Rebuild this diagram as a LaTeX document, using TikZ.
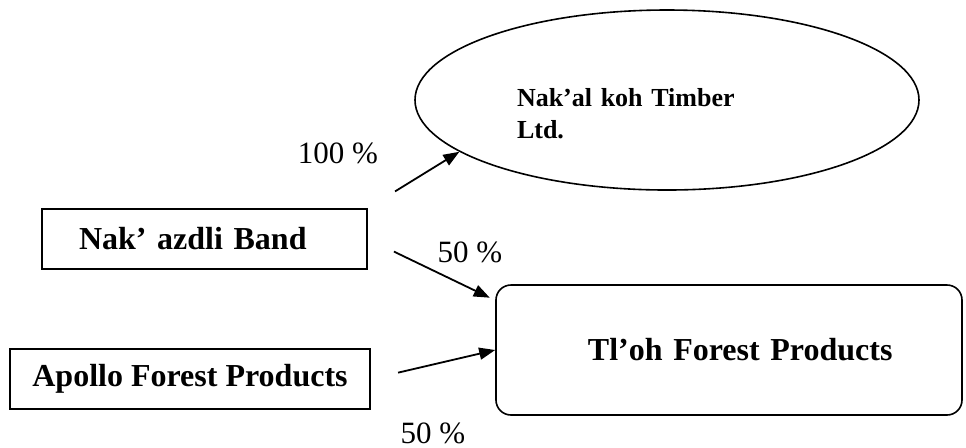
\documentclass[tikz,border=0pt]{standalone}
\usepackage{fontspec}
\setmainfont{Liberation Serif}
\usetikzlibrary{positioning,arrows.meta,shapes.geometric}

\tikzset{
  firm/.style={draw, line width=0.8pt, minimum height=30pt, font=\fontsize{16}{19}\selectfont\bfseries},
  share/.style={font=\fontsize{15.5}{18}\selectfont},
  own/.style={-{Triangle[length=8pt,width=6pt]}, line width=0.9pt}
}

\begin{document}
\begin{tikzpicture}[x=0.5pt,y=-0.5pt]
\useasboundingbox (0,0) rectangle (966,447);

% Companies
\node[firm, ellipse, minimum width=252pt, minimum height=90pt, inner sep=0pt] (timber) at (667,100) {};
\node[text width=150pt, align=left, font=\fontsize{13}{16}\selectfont\bfseries] (timbername) at (667,114) {Nak’al koh Timber\\Ltd.};
\node[firm, minimum width=162.5pt, text width=125.5pt, align=left] (band) at (204.5,239) {Nak’ azdli Band};
\node[firm, minimum width=180pt] (apollo) at (190,379) {Apollo Forest Products};
\node[firm, rounded corners=7.5pt, minimum width=233pt, minimum height=65pt,
      text width=163.5pt, align=right] (tloh) at (729,350) {Tl’oh Forest Products};

% Shares
\draw[own, shorten <=16pt] (band.north east) -- (timber.194);
\draw[own, shorten <=14.5pt, shorten >=3pt] (band.east) -- (tloh.168);
\draw[own, shorten <=14pt] (apollo.east) -- (tloh.west);

\node[share] (pcttimber) at (338,153) {100 \%};
\node[share] (pctband) at (470,252) {50 \%};
\node[share] (pctapollo) at (433,433) {50 \%};
\end{tikzpicture}
\end{document}
